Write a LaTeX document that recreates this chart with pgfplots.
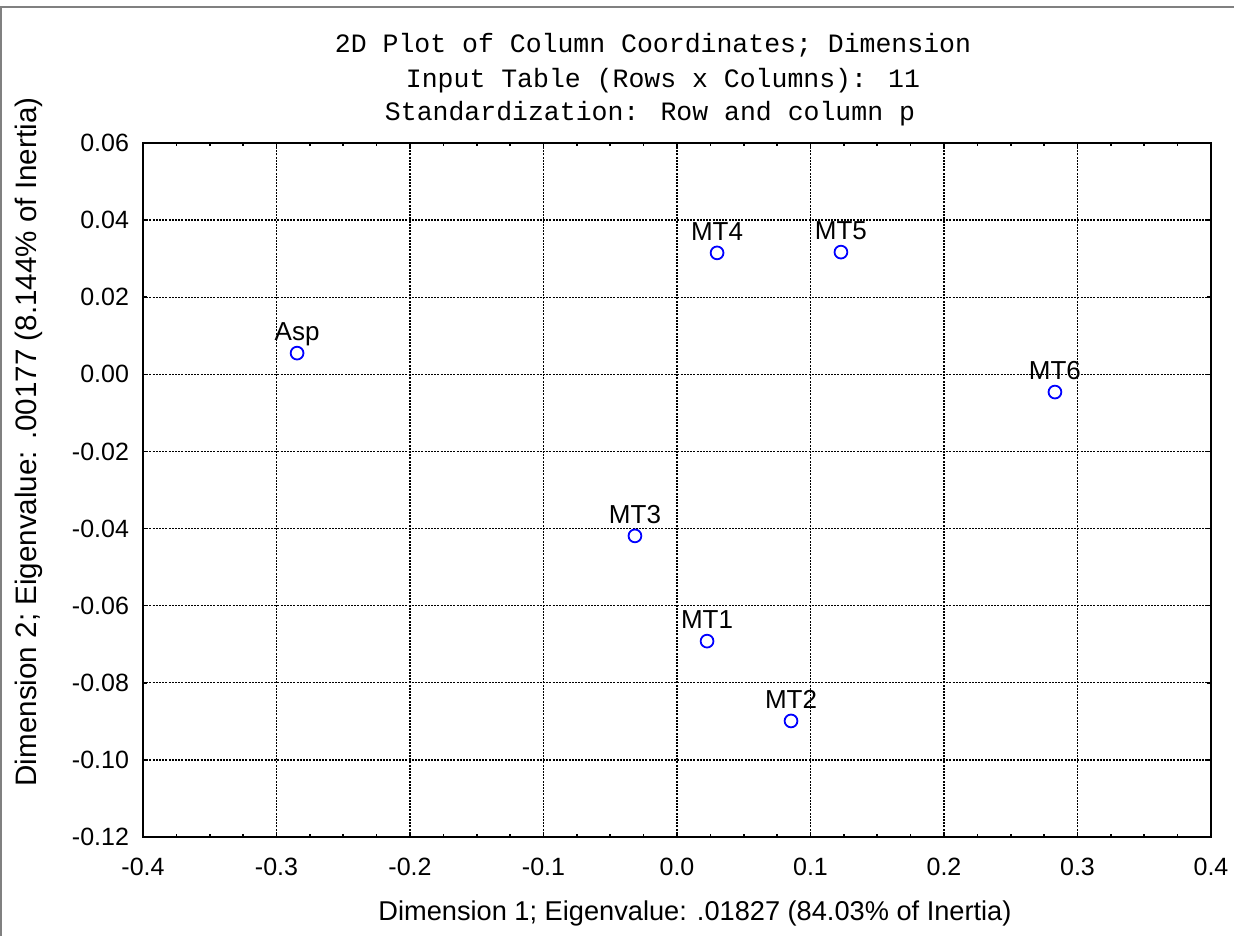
\documentclass[border=0pt]{standalone}
\usepackage{fontspec}
\setmainfont{Liberation Sans}
\newfontfamily\monofont{Liberation Mono}
\usepackage{pgfplots}
\usepackage{pgfplotstable}
\pgfplotsset{compat=1.18}
\pgfplotstableread{
x y label
-0.2846 0.0055 Asp
0.0300 0.0315 MT4
0.1228 0.0317 MT5
0.2831 -0.0046 MT6
-0.0315 -0.0419 MT3
0.0225 -0.0692 MT1
0.0854 -0.0899 MT2
}\coldata
\begin{document}
\begin{tikzpicture}
\begin{axis}[
  name=ax,
  scale only axis,
  width=534pt, height=347pt,
  xmin=-0.4, xmax=0.4, ymin=-0.12, ymax=0.06,
  xtick={-0.4,-0.3,-0.2,-0.1,0,0.1,0.2,0.3,0.4},
  ytick={-0.12,-0.1,-0.08,-0.06,-0.04,-0.02,0,0.02,0.06},
  extra y ticks={0.04},
  extra y tick style={grid style={black!30, dash pattern=on 0.8pt off 0.8pt, line width=0.5pt}},
  minor x tick num=3,
  minor y tick num=1,
  tick align=inside,
  major tick length=2.2pt,
  minor tick length=1.6pt,
  every tick/.style={black, line width=0.8pt},
  axis line style={line width=1.3pt},
  grid=major,
  major grid style={black, dash pattern=on 1pt off 0.6pt, line width=0.65pt},
  /pgf/number format/assume math mode=true,
  xticklabel style={/pgf/number format/fixed, /pgf/number format/fixed zerofill, /pgf/number format/precision=1, yshift=-7pt},
  yticklabel style={/pgf/number format/fixed, /pgf/number format/fixed zerofill, /pgf/number format/precision=2, xshift=-3.5pt},
  tick label style={font=\fontsize{12.5}{14}\selectfont},
  nodes near coords,
  point meta=explicit symbolic,
  nodes near coords style={black, font=\fontsize{13}{15}\selectfont, anchor=base, yshift=6.2pt, inner sep=0pt},
  clip=false,
]
\addplot[only marks, mark=o, mark size=3.2pt, color=blue, mark options={line width=0.9pt}]
  table[x=x, y=y, meta=label] {\coldata};
\end{axis}
\pgfresetboundingbox
\path[use as bounding box] ([xshift=-71.5pt,yshift=-49.5pt]ax.south west) rectangle ([xshift=11.5pt,yshift=71.5pt]ax.north east);
\draw[gray, line width=0.8pt] ([xshift=-71pt,yshift=-49.5pt]ax.south west) -- ([xshift=-71pt,yshift=68pt]ax.north west) -- ([xshift=11.5pt,yshift=68pt]ax.north east);
\node[font=\monofont\fontsize{13.25}{16}\selectfont] at ([xshift=255pt,yshift=49pt]ax.north west) {2D Plot of Column Coordinates; Dimension};
\node[font=\monofont\fontsize{13.25}{16}\selectfont] at ([xshift=260pt,yshift=31pt]ax.north west) {Input Table (Rows x Columns): 11};
\node[font=\monofont\fontsize{13.25}{16}\selectfont] at ([xshift=253.5pt,yshift=14.5pt]ax.north west) {Standardization: Row and column p};
\node[font=\fontsize{13.6}{16}\selectfont] at ([xshift=276pt,yshift=-38pt]ax.south west) {Dimension 1; Eigenvalue: .01827 (84.03\% of Inertia)};
\node[font=\fontsize{14.8}{16}\selectfont, rotate=90] at ([xshift=-57pt,yshift=197.5pt]ax.south west) {Dimension 2; Eigenvalue: .00177 (8.144\% of Inertia)};
\end{tikzpicture}
\end{document}
